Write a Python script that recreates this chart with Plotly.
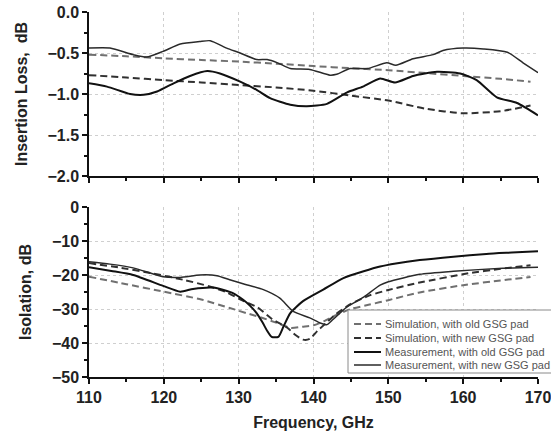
import plotly.graph_objects as go

# ---------------- data ----------------
# Insertion loss (top panel)
il_meas_new_f = [110, 112.8, 115.9, 117.7, 119.9, 122.2, 124.8, 126.2, 128.4, 130.2, 132.4, 133.8, 135.2,
                 136.9, 139.5, 142.2, 143.1, 144.9, 147.2, 149.8, 151.0, 153.3, 156.0, 157.3, 160.0, 162.7,
                 165.9, 168.0, 170]
il_meas_new = [-0.44, -0.44, -0.52, -0.55, -0.48, -0.39, -0.36, -0.35, -0.44, -0.50, -0.58, -0.58, -0.62,
               -0.69, -0.70, -0.77, -0.76, -0.69, -0.69, -0.62, -0.65, -0.57, -0.52, -0.47, -0.44, -0.45,
               -0.49, -0.62, -0.74]

il_meas_old_f = [110, 112.4, 115.5, 117.3, 119.1, 121.3, 123.5, 125.8, 127.5, 130.2, 132.4, 134.2, 136.9,
                 139.1, 141.8, 144.5, 146.6, 148.9, 150.9, 153.3, 156.5, 159.6, 161.8, 164.5, 167.2, 170]
il_meas_old = [-0.87, -0.91, -1.00, -1.01, -0.97, -0.87, -0.78, -0.72, -0.75, -0.85, -0.95, -1.05, -1.13,
               -1.15, -1.12, -0.98, -0.91, -0.81, -0.86, -0.78, -0.73, -0.75, -0.83, -1.04, -1.11, -1.26]

il_sim_old_f = [110, 115, 120, 125, 130, 135, 140, 145, 150, 155, 160, 165, 169]
il_sim_old = [-0.52, -0.54, -0.565, -0.585, -0.605, -0.63, -0.66, -0.685, -0.71, -0.745, -0.78, -0.815, -0.85]

il_sim_new_f = [110, 115, 120, 125, 130, 135, 140, 145, 150, 155, 160, 165, 169]
il_sim_new = [-0.77, -0.80, -0.83, -0.86, -0.89, -0.92, -0.96, -1.02, -1.08, -1.18, -1.235, -1.21, -1.14]

# Isolation (bottom panel)
iso_meas_old_f = [110, 113, 115.9, 119.9, 122.2, 123.9, 126.6, 129.3, 130.6, 131.5, 132.4, 133.2, 133.8,
                  134.4, 135.3, 136.0, 136.9, 138.6, 141.3, 144.0, 146.7, 148.9, 151.0, 154.2, 158.7, 163.1,
                  166.5, 170]
iso_meas_old = [-17.7, -18.8, -20.0, -23.2, -24.9, -24.1, -23.7, -25.4, -27.3, -29.0, -31.2, -34.0, -36.4,
                -38.2, -38.2, -35.1, -31.2, -27.7, -24.3, -20.9, -18.9, -17.5, -16.6, -15.6, -14.6, -13.8,
                -13.4, -13.0]

iso_meas_new_f = [110, 112.8, 115.9, 119.9, 122.2, 124.8, 127.1, 128.8, 130.8, 133.3, 135.5, 137.3, 139.5,
                  140.9, 141.8, 142.6, 144.4, 146.7, 148.9, 150.0, 154.2, 158.7, 165.3, 170]
iso_meas_new = [-16.1, -16.8, -17.9, -20.5, -20.7, -20.0, -20.2, -21.4, -22.7, -24.3, -26.8, -30.7, -32.6,
                -34.1, -34.6, -33.1, -29.5, -26.5, -23.0, -22.0, -19.8, -18.9, -18.0, -17.7]

iso_sim_old_f = [110, 115, 120, 125, 128.8, 131, 133, 135, 137, 138.5, 140, 141.5, 143, 145, 147.5, 150,
                 154, 160, 165, 169]
iso_sim_old = [-20.5, -22.7, -24.9, -27.2, -29.7, -31.2, -32.5, -34.0, -35.6, -35.2, -34.8, -33.5, -31.8,
               -30.0, -28.7, -27.4, -25.2, -23.0, -21.6, -20.6]

iso_sim_new_f = [110, 114, 118.4, 122.8, 126, 128.2, 130.8, 132.5, 134.5, 136.5, 137.5, 138.6, 139.5, 140.5,
                 141.5, 143, 145, 147.5, 150, 154, 160.7, 165, 169]
iso_sim_new = [-16.5, -17.8, -19.5, -21.5, -23.3, -24.9, -27.8, -29.5, -33.0, -35.5, -37.5, -39.0, -38.8,
               -36.5, -34.5, -31.5, -28.5, -26.0, -24.4, -22.3, -19.5, -18.2, -17.1]

legend_keys = ["sim_old", "sim_new", "meas_old", "meas_new"]
legend_names = ["Simulation, with old GSG pad", "Simulation, with new GSG pad",
                "Measurement, with old GSG pad", "Measurement, with new GSG pad"]

# ---------------- styles ----------------
FONT = "Liberation Sans, Arial, sans-serif"
sty = {
    "sim_old": dict(color="#707070", width=2, dash="7px,4px"),
    "sim_new": dict(color="#303030", width=2, dash="7px,4px"),
    "meas_old": dict(color="#111111", width=2),
    "meas_new": dict(color="#2a2a2a", width=1.5),
}

fig = go.Figure()

def add(x, y, key, name, axis):
    fig.add_trace(go.Scatter(
        x=x, y=y, mode="lines", name=name, showlegend=False,
        line=dict(shape="spline", smoothing=0.6, **sty[key]),
        xaxis="x" if axis == 1 else "x2", yaxis="y" if axis == 1 else "y2",
    ))

add(il_sim_old_f, il_sim_old, "sim_old", legend_names[0], 1)
add(il_sim_new_f, il_sim_new, "sim_new", legend_names[1], 1)
add(il_meas_old_f, il_meas_old, "meas_old", legend_names[2], 1)
add(il_meas_new_f, il_meas_new, "meas_new", legend_names[3], 1)

add(iso_sim_old_f, iso_sim_old, "sim_old", legend_names[0], 2)
add(iso_sim_new_f, iso_sim_new, "sim_new", legend_names[1], 2)
add(iso_meas_old_f, iso_meas_old, "meas_old", legend_names[2], 2)
add(iso_meas_new_f, iso_meas_new, "meas_new", legend_names[3], 2)

tickfont = dict(family=FONT, size=16, color="#222222")
titlefont = dict(family=FONT, size=16, color="#222222")

common_x = dict(range=[110, 170], tick0=110, dtick=10, ticks="outside", ticklen=5, tickwidth=1.5,
                tickcolor="#111", showline=True, linecolor="#111", linewidth=1.5, automargin=False,
                showgrid=True, gridcolor="#cfcfcf", griddash="dot", gridwidth=1, zeroline=False,
                minor=dict(dtick=5, tick0=110, ticks="outside", ticklen=3, tickwidth=1.5, tickcolor="#111",
                           showgrid=False),
                tickfont=tickfont, ticklabeloverflow="allow")
common_y = dict(ticks="outside", ticklen=5, tickwidth=1.5, tickcolor="#111", showline=True,
                linecolor="#111", linewidth=1.5, showgrid=True, gridcolor="#cfcfcf", griddash="dot",
                gridwidth=1, zeroline=False, tickfont=tickfont, automargin=False,
                ticklabeloverflow="allow")

FIG_W, FIG_H = 551, 435
M_L, M_R, M_T, M_B = 89, 13, 12, 58
W_PLOT = FIG_W - M_L - M_R          # 449
H_PLOT = FIG_H - M_T - M_B          # 365
def px_x(p):   # pixel -> paper x
    return (p - M_L) / W_PLOT
def px_y(p):   # pixel -> paper y
    return (FIG_H - M_B - p) / H_PLOT

# ---------------- legend (box at lower right of the isolation panel) ----------------
shapes = [dict(type="rect", xref="paper", yref="paper",
               x0=px_x(348), x1=px_x(600), y0=px_y(373), y1=px_y(310),
               line=dict(color="#8a8a8a", width=1), fillcolor="white", layer="above")]
annotations = []
row_y = [324, 338, 352, 365]
for key, name, ry in zip(legend_keys, legend_names, row_y):
    ls = dict(sty[key])
    shapes.append(dict(type="line", xref="paper", yref="paper",
                       x0=px_x(354), x1=px_x(381), y0=px_y(ry), y1=px_y(ry),
                       line=ls, layer="above"))
    annotations.append(dict(xref="paper", yref="paper", x=px_x(383), y=px_y(ry),
                            xanchor="left", yanchor="middle", showarrow=False, text=name,
                            font=dict(family=FONT, size=11, color="#555555")))

fig.update_layout(
    width=FIG_W, height=FIG_H,
    margin=dict(l=M_L, r=M_R, t=M_T, b=M_B, autoexpand=False),
    paper_bgcolor="white", plot_bgcolor="white",
    font=dict(family=FONT),
    showlegend=False,
    xaxis=dict(domain=[0, 1], anchor="y", showticklabels=False, **common_x),
    yaxis=dict(domain=[px_y(176), 1], anchor="x", range=[-2, 0], dtick=0.5, tick0=0, tickformat=".1f",
               minor=dict(dtick=0.25, ticks="outside", ticklen=3, tickwidth=1.5, tickcolor="#111",
                          showgrid=False),
               title=dict(text="<b>Insertion Loss,  dB</b>", font=titlefont, standoff=16), **common_y),
    xaxis2=dict(domain=[0, 1], anchor="y2",
                title=dict(text="<b>Frequency, GHz</b>", font=titlefont, standoff=12), **common_x),
    yaxis2=dict(domain=[0, px_y(207)], anchor="x2", range=[-50, 0], dtick=10, tick0=0,
                minor=dict(dtick=5, ticks="outside", ticklen=3, tickwidth=1.5, tickcolor="#111",
                           showgrid=False),
                title=dict(text="<b>Isolation, dB</b>", font=titlefont, standoff=16), **common_y),
    shapes=shapes,
    annotations=annotations,
)
fig.update_xaxes(tickprefix="<b>", ticksuffix="</b>")
fig.update_yaxes(tickprefix="<b>", ticksuffix="</b>")

# remove the browser's default 8 px body margin so the figure fills the window exactly
fig.write_html("out.html", config={"displayModeBar": False},
               post_script="document.body.style.margin='0';document.body.style.padding='0';")
